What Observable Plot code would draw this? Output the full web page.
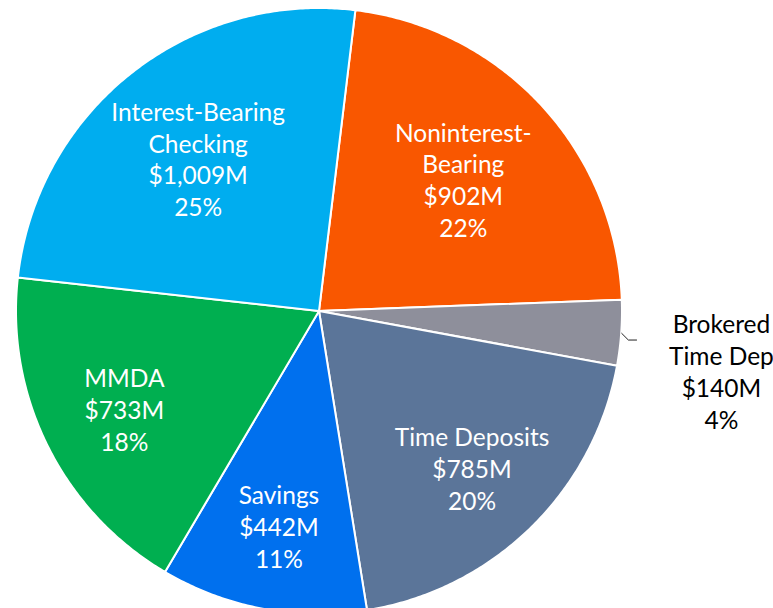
<!DOCTYPE html>
<html>
<head>
<meta charset="utf-8">
<script src="https://cdn.jsdelivr.net/npm/d3@7"></script>
<script src="https://cdn.jsdelivr.net/npm/@observablehq/plot@0.6"></script>
<style>
  html, body { margin: 0; padding: 0; background: white; overflow: hidden; }
  #chart svg { display: block; }
</style>
</head>
<body>
<div id="chart"></div>
<script>
// ---- data ----
const categories = ["Noninterest-Bearing", "Brokered Time Deposits", "Time Deposits", "Savings", "MMDA", "Interest-Bearing Checking"];
const values = [902, 140, 785, 442, 733, 1009];
const nameLabels = ["Noninterest-\nBearing", "Brokered\nTime Dep", "Time Deposits", "Savings", "MMDA", "Interest-Bearing\nChecking"];
const percentLabels = ["22%", "4%", "20%", "11%", "18%", "25%"];
const colors = ["#F95700", "#8E8F9B", "#5B7599", "#0070EE", "#00AF50", "#00ADEF"];
const outsideLabel = [false, true, false, false, false, false];

// ---- layout ----
const W = 773, H = 608;
const startAngle = 6.9 * Math.PI / 180;

const pie = d3.pie().sort(null).startAngle(startAngle).endAngle(startAngle + 2 * Math.PI)(values);

// wedge polygons (unit circle, y up), drawn with area between center and arc
const wedgeRows = [];
pie.forEach((p, i) => {
  const n = Math.max(2, Math.ceil((p.endAngle - p.startAngle) / (Math.PI / 360)));
  for (let k = 0; k <= n; k++) {
    const a = p.startAngle + (p.endAngle - p.startAngle) * k / n;
    wedgeRows.push({cat: categories[i], x1: 0, y1: 0, x2: Math.sin(a), y2: Math.cos(a)});
  }
});

const fmt = d3.format(",");
const labelRows = pie.map((p, i) => {
  const mid = (p.startAngle + p.endAngle) / 2;
  const text = `${nameLabels[i]}\n$${fmt(values[i])}M\n${percentLabels[i]}`;
  const lines = text.split("\n").length;
  const r = outsideLabel[i] ? 1.33 : (lines >= 4 ? 0.645 : 0.72);
  return {cat: categories[i], x: r * Math.sin(mid), y: r * Math.cos(mid), text, outside: outsideLabel[i], mid};
});

// leader line for outside label: short diagonal from the slice edge, then horizontal
const leaderRows = [];
labelRows.filter(d => d.outside).forEach(d => {
  const p0 = {x: Math.sin(d.mid), y: Math.cos(d.mid)};
  const p1 = {x: p0.x + 0.022, y: p0.y - 0.022};
  leaderRows.push({cat: d.cat, ...p0}, {cat: d.cat, ...p1}, {cat: d.cat, x: p1.x + 0.027, y: p1.y});
});

const chart = Plot.plot({
  width: W,
  height: H,
  margin: 0,
  style: {background: "white", fontFamily: "Lato, 'Open Sans', sans-serif"},
  x: {domain: [-1, 1], range: [16, 622], axis: null},
  y: {domain: [-1, 1], range: [614, 8], axis: null},
  color: {domain: categories, range: colors},
  marks: [
    Plot.area(wedgeRows, {x1: "x1", y1: "y1", x2: "x2", y2: "y2", z: "cat", fill: "cat", stroke: "white", strokeWidth: 2, strokeLinejoin: "round"}),
    Plot.line(leaderRows, {x: "x", y: "y", z: "cat", stroke: "#222", strokeWidth: 1}),
    Plot.text(labelRows.filter(d => !d.outside), {x: "x", y: "y", text: "text", fill: "white", fontSize: 24.5, lineHeight: 1.3, fontFamily: "Lato"}),
    Plot.text(labelRows.filter(d => d.outside), {x: "x", y: "y", text: "text", fill: "black", fontSize: 24.5, lineHeight: 1.3, fontFamily: "Lato", dy: 30})
  ]
});
document.getElementById("chart").appendChild(chart);
</script>
</body>
</html>
